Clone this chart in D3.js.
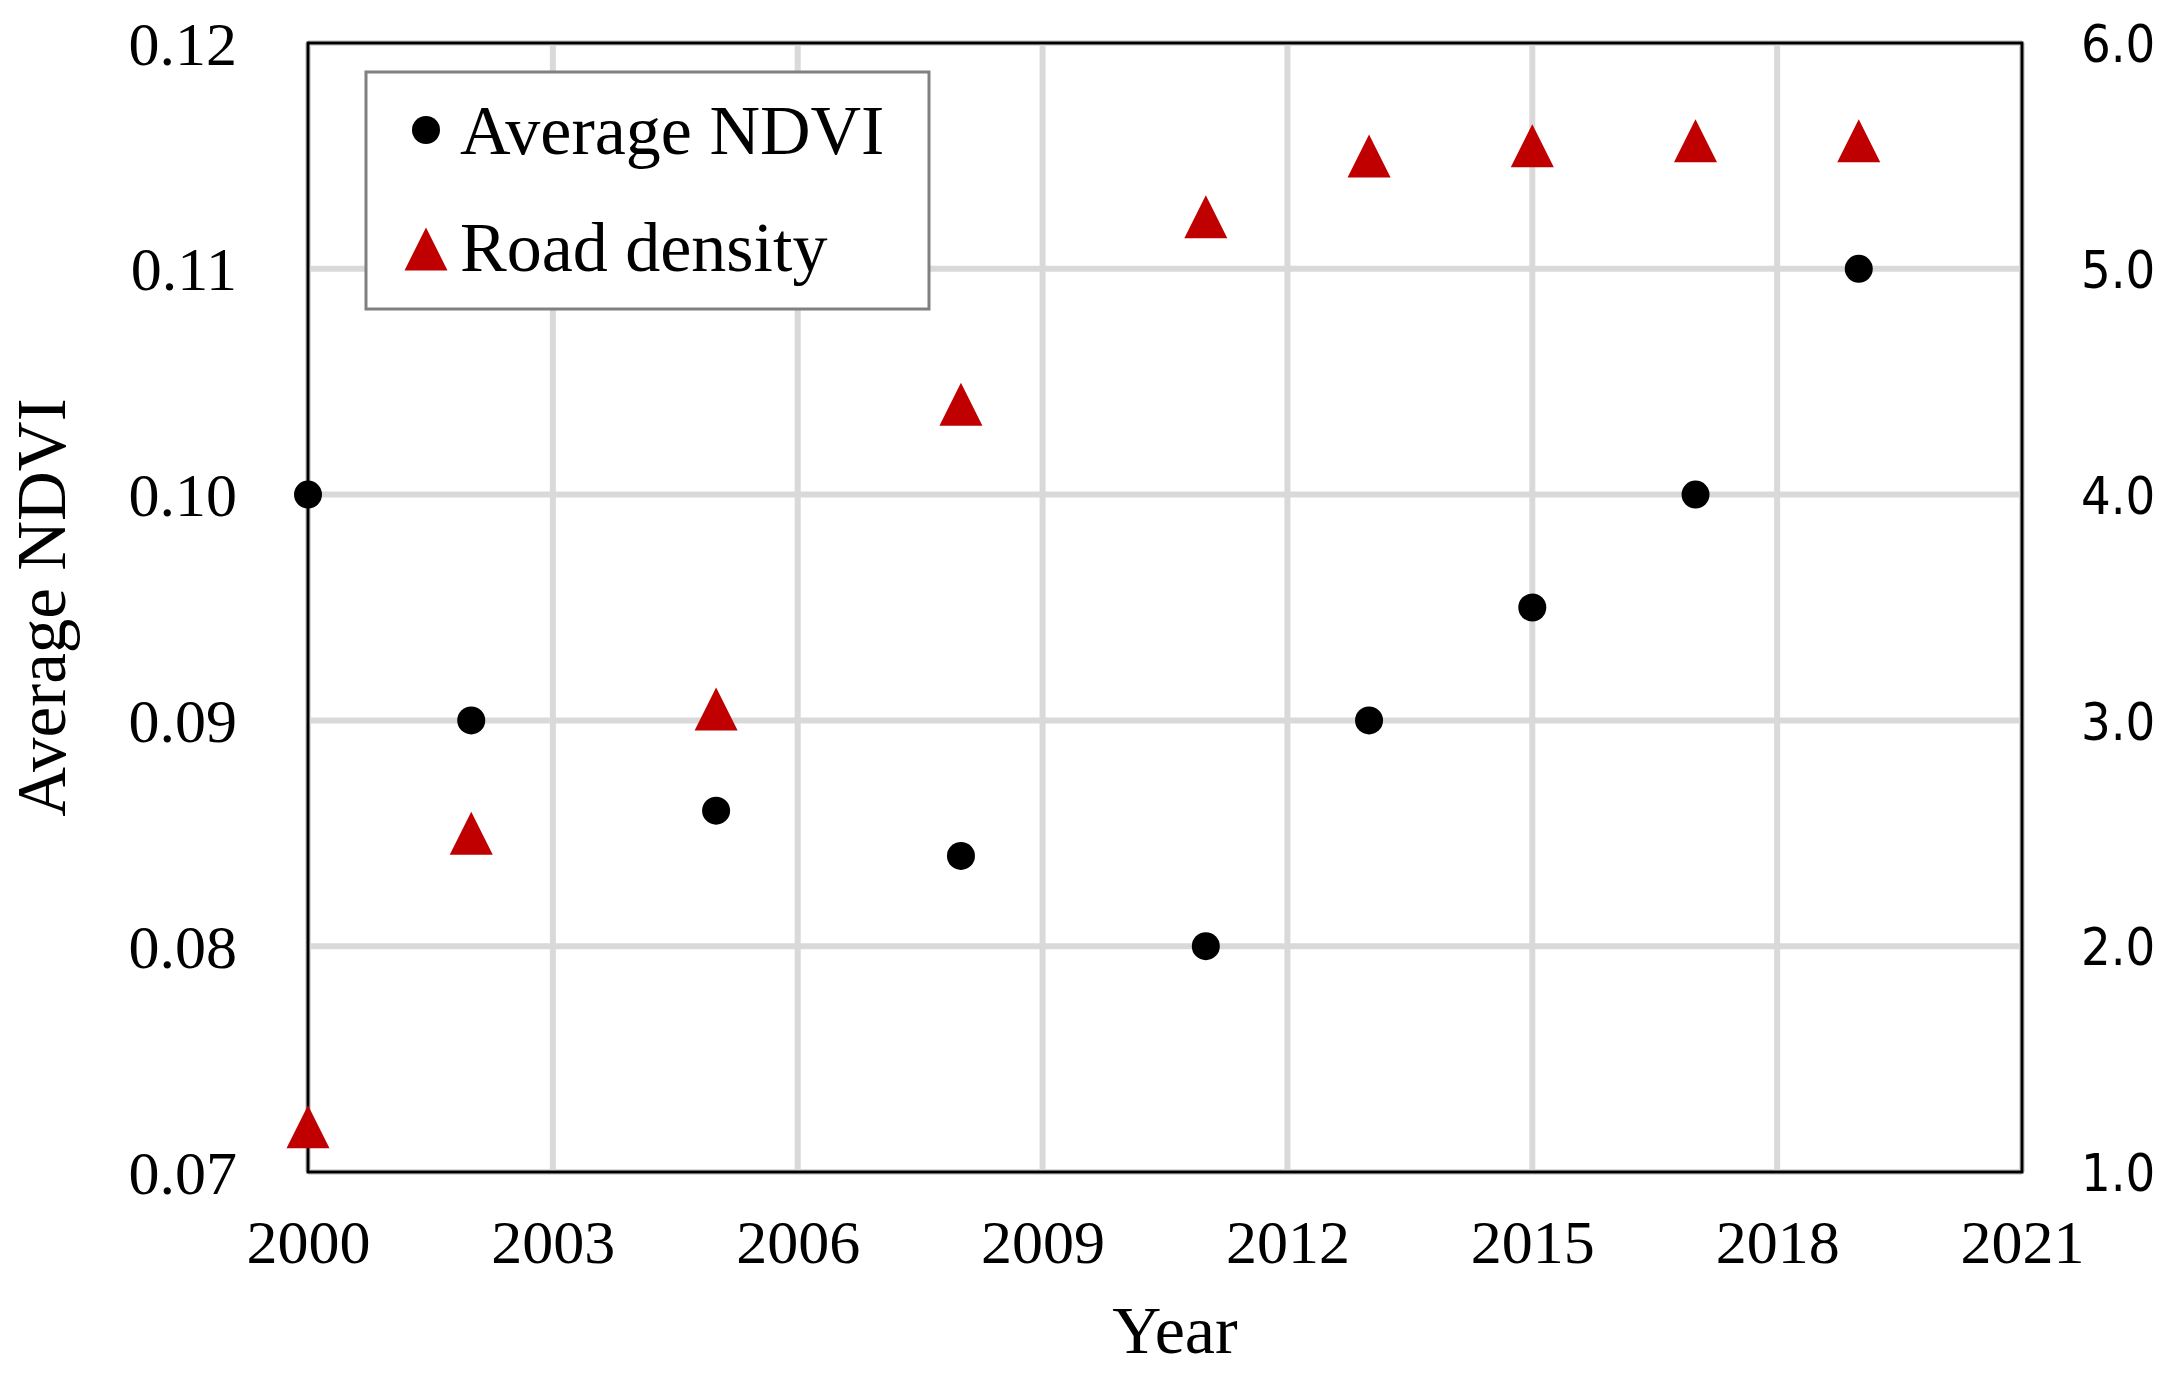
<!doctype html>
<html>
<head>
  <meta charset="UTF-8">
  <title>Average NDVI and road density</title>
  <script src="https://d3js.org/d3.v7.min.js"></script>
  <style>
    body { margin: 0; background: #fff; }
    text { font-family: "Liberation Serif", "Times New Roman", serif; fill: #000; }
    .right-tick text { font-family: "DejaVu Sans Condensed", "DejaVu Sans", sans-serif; font-stretch: condensed; }
  </style>
</head>
<body>
  <script>
    // data
    var years = [2000, 2002, 2005, 2008, 2011, 2013, 2015, 2017, 2019];
    var ndvi = [0.100, 0.090, 0.086, 0.084, 0.080, 0.090, 0.095, 0.100, 0.110];
    var roadDensity = [1.20, 2.50, 3.05, 4.40, 5.23, 5.50, 5.545, 5.567, 5.567];
    var xTicks = [2000, 2003, 2006, 2009, 2012, 2015, 2018, 2021];
    var leftTicks = [0.07, 0.08, 0.09, 0.10, 0.11, 0.12];
    var rightTicks = [1, 2, 3, 4, 5, 6];

    var w = 2179, h = 1377;
    // plot box (note: "top" is reserved on window, so use px* names)
    var pxL = 308, pxR = 2022, pxT = 43, pxB = 1172;

    var svg = d3.select("body").append("svg")
      .attr("width", w)
      .attr("height", h);

    var x = d3.scaleLinear().domain([2000, 2021]).range([pxL, pxR]);
    var yL = d3.scaleLinear().domain([0.07, 0.12]).range([pxB, pxT]);
    var yR = d3.scaleLinear().domain([1, 6]).range([pxB, pxT]);

    // grid
    svg.append("g").selectAll("line")
      .data(xTicks).enter().append("line")
      .attr("x1", function(d) { return x(d); })
      .attr("x2", function(d) { return x(d); })
      .attr("y1", pxT).attr("y2", pxB)
      .attr("stroke", "#d9d9d9").attr("stroke-width", 6);
    svg.append("g").selectAll("line")
      .data(leftTicks).enter().append("line")
      .attr("x1", pxL).attr("x2", pxR)
      .attr("y1", function(d) { return yL(d); })
      .attr("y2", function(d) { return yL(d); })
      .attr("stroke", "#d9d9d9").attr("stroke-width", 6);

    // plot border
    svg.append("rect")
      .attr("x", pxL).attr("y", pxT)
      .attr("width", pxR - pxL).attr("height", pxB - pxT)
      .attr("fill", "none").attr("stroke", "#000").attr("stroke-width", 3);

    // axes (labels only)
    var gx = svg.append("g")
      .attr("transform", "translate(0," + pxB + ")")
      .call(d3.axisBottom(x).tickValues(xTicks).tickFormat(d3.format("d")).tickSize(0).tickPadding(91));
    gx.select(".domain").remove();
    gx.selectAll("text").attr("font-size", 62).attr("dy", 0)
      .style("font-family", "'Liberation Serif', 'Times New Roman', serif");

    var gl = svg.append("g")
      .attr("transform", "translate(" + pxL + ",0)")
      .call(d3.axisLeft(yL).tickValues(leftTicks).tickFormat(d3.format(".2f")).tickSize(0).tickPadding(71));
    gl.select(".domain").remove();
    gl.selectAll("text").attr("font-size", 62).attr("dy", "0.34em")
      .style("font-family", "'Liberation Serif', 'Times New Roman', serif");

    var gr = svg.append("g")
      .attr("class", "right-tick")
      .attr("transform", "translate(" + pxR + ",0)")
      .call(d3.axisRight(yR).tickValues(rightTicks).tickFormat(d3.format(".1f")).tickSize(0).tickPadding(59));
    gr.select(".domain").remove();
    gr.selectAll("text").attr("font-size", 52).attr("dy", "0.36em");

    // axis titles
    svg.append("text")
      .attr("x", 1175).attr("y", 1353)
      .attr("text-anchor", "middle")
      .attr("font-size", 68)
      .text("Year");
    svg.append("text")
      .attr("transform", "translate(65," + ((pxT + pxB) / 2) + ") rotate(-90)")
      .attr("text-anchor", "middle")
      .attr("font-size", 69)
      .text("Average NDVI");

    // markers
    function tri(cx, cy, tw, th) {
      return "M" + cx + "," + (cy - th / 2) +
        "L" + (cx + tw / 2) + "," + (cy + th / 2) +
        "L" + (cx - tw / 2) + "," + (cy + th / 2) + "Z";
    }

    svg.append("g").selectAll("circle")
      .data(years).enter().append("circle")
      .attr("cx", function(d) { return x(d); })
      .attr("cy", function(d, i) { return yL(ndvi[i]); })
      .attr("r", 14)
      .attr("fill", "#000");

    svg.append("g").selectAll("path")
      .data(years).enter().append("path")
      .attr("d", function(d, i) { return tri(x(d), yR(roadDensity[i]), 43, 43); })
      .attr("fill", "#c00000");

    // legend
    var lg = svg.append("g");
    lg.append("rect")
      .attr("x", 366).attr("y", 72)
      .attr("width", 563).attr("height", 237)
      .attr("fill", "#fff").attr("stroke", "#808080").attr("stroke-width", 3);
    lg.append("circle").attr("cx", 426).attr("cy", 130).attr("r", 14).attr("fill", "#000");
    lg.append("path").attr("d", tri(426, 249, 43, 43)).attr("fill", "#c00000");
    lg.append("text").attr("x", 460).attr("y", 154).attr("font-size", 70).text("Average NDVI");
    lg.append("text").attr("x", 460).attr("y", 271).attr("font-size", 70).text("Road density");
  </script>
</body>
</html>
